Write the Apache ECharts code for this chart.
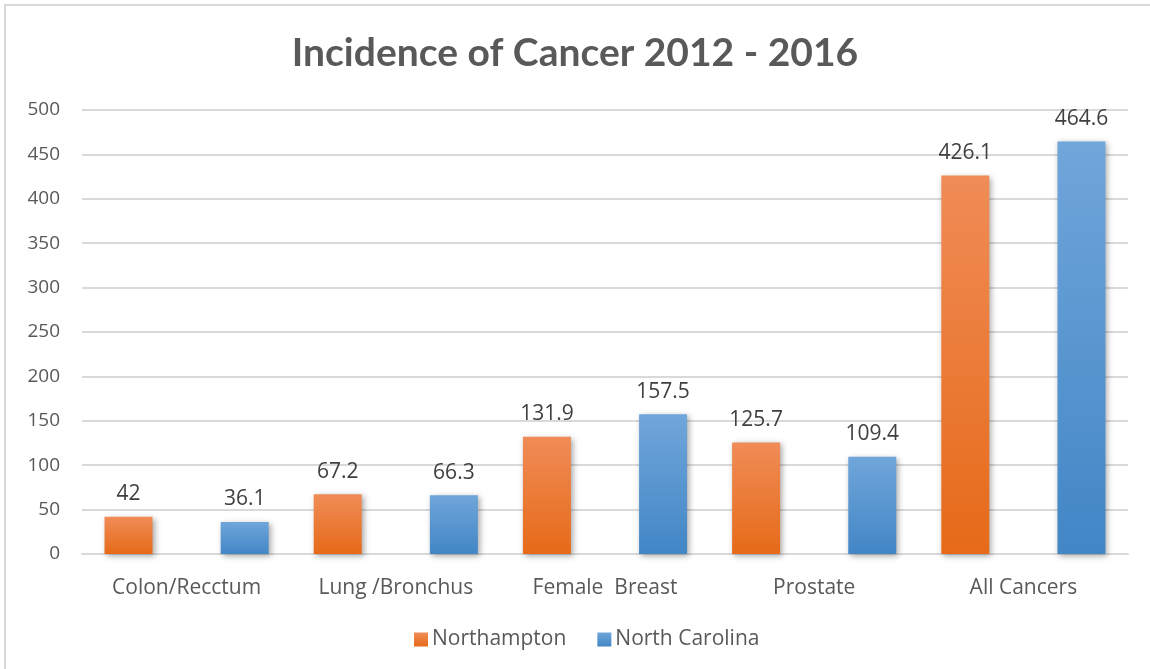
<!DOCTYPE html>
<html>
<head>
<meta charset="utf-8">
<script src="https://cdn.jsdelivr.net/npm/echarts@6/dist/echarts.min.js"></script>
<style>
html,body{margin:0;padding:0;background:#fff;}
#chart{width:1150px;height:669px;}
</style>
</head>
<body>
<div id="chart"></div>
<script>
const categories = ['Colon/Recctum', 'Lung /Bronchus', 'Female  Breast', 'Prostate', 'All Cancers'];
const northampton = [42, 67.2, 131.9, 125.7, 426.1];
const northCarolina = [36.1, 66.3, 157.5, 109.4, 464.6];
const seriesNames = ['Northampton', 'North Carolina'];

const FONT = '"Open Sans", Lato, sans-serif';
const TFONT = 'Lato, "Open Sans", sans-serif';
const chart = echarts.init(document.getElementById('chart'));

function grad(top, bottom) {
  return new echarts.graphic.LinearGradient(0, 0, 0, 1, [
    {offset: 0, color: top}, {offset: 1, color: bottom}
  ]);
}

const barStyle = (top, bottom) => ({
  color: grad(top, bottom),
  shadowColor: 'rgba(0,0,0,0.35)',
  shadowBlur: 6,
  shadowOffsetX: 2,
  shadowOffsetY: 2
});

const labelCfg = {
  show: true,
  position: 'top',
  distance: 12,
  color: '#404040',
  fontSize: 21,
  fontFamily: FONT
};

chart.setOption({
  animation: false,
  backgroundColor: '#fff',
  graphic: [{
    type: 'rect',
    shape: {x: 5, y: 5, width: 1200, height: 700},
    style: {fill: 'none', stroke: '#d9d9d9', lineWidth: 2},
    silent: true
  }],
  title: {
    text: 'Incidence of Cancer 2012 - 2016',
    left: 'center',
    top: 29,
    textStyle: {color: '#595959', fontSize: 39, fontWeight: 'bold', fontFamily: TFONT}
  },
  legend: {
    bottom: 14,
    left: 409,
    itemWidth: 14,
    itemHeight: 14,
    itemGap: 31,
    icon: 'rect',
    textStyle: {color: '#595959', fontSize: 21, fontFamily: FONT, padding: [0, 0, 0, -1]},
    data: seriesNames
  },
  grid: {left: 82, right: 22, top: 110, bottom: 115, containLabel: false},
  xAxis: {
    type: 'category',
    data: categories,
    axisLine: {lineStyle: {color: '#d9d9d9', width: 2}},
    axisTick: {show: false},
    axisLabel: {color: '#595959', fontSize: 21, fontFamily: FONT, margin: 24}
  },
  yAxis: {
    type: 'value',
    min: 0,
    max: 500,
    interval: 50,
    axisLine: {show: false},
    axisTick: {show: false},
    splitLine: {lineStyle: {color: '#d9d9d9', width: 2}},
    axisLabel: {color: '#595959', fontSize: 19, fontFamily: FONT, margin: 22}
  },
  series: [
    {
      name: seriesNames[0],
      type: 'bar',
      data: northampton,
      barWidth: 48,
      barGap: '142%',
      itemStyle: barStyle('#F08C57', '#E66A18'),
      label: labelCfg
    },
    {
      name: seriesNames[1],
      type: 'bar',
      data: northCarolina,
      barWidth: 48,
      barGap: '142%',
      itemStyle: barStyle('#70A6DA', '#4286C6'),
      label: labelCfg
    }
  ]
});
</script>
</body>
</html>
